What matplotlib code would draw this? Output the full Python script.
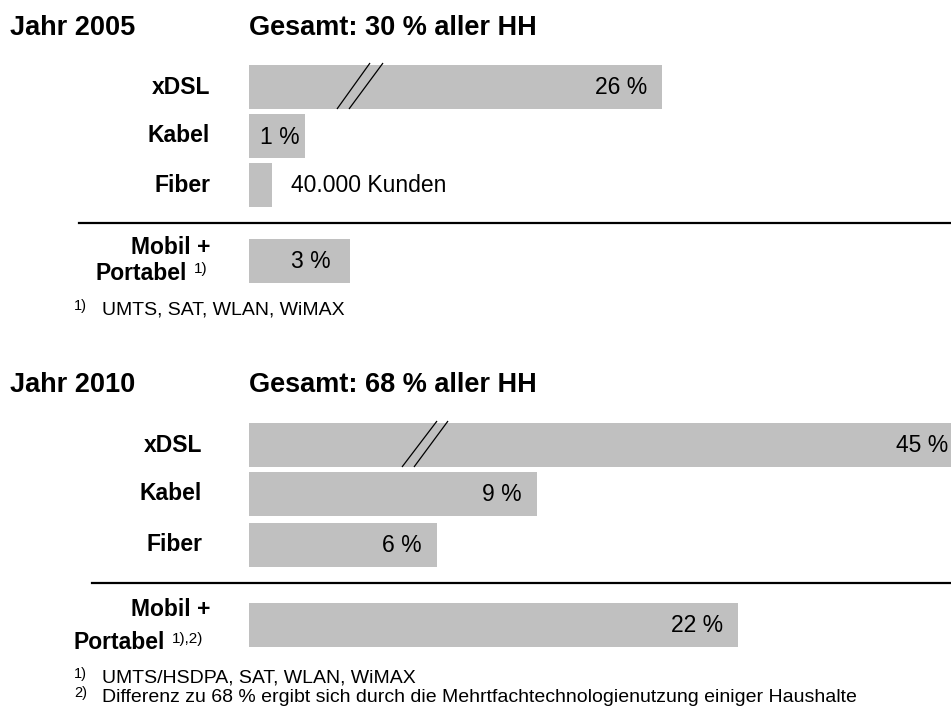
import matplotlib
matplotlib.use("Agg")
import matplotlib.pyplot as plt

# ---------------- data ----------------
categories = ["xDSL", "Kabel", "Fiber", "Mobil +"]
years = ["Jahr 2005", "Jahr 2010"]
totals = ["Gesamt: 30 % aller HH", "Gesamt: 68 % aller HH"]

values_2005 = [26, 1, None, 3]          # percent of households (Fiber: 40.000 customers)
labels_2005 = ["26 %", "1 %", "40.000 Kunden", "3 %"]
values_2010 = [45, 9, 6, 22]
labels_2010 = ["45 %", "9 %", "6 %", "22 %"]

# drawn bar lengths (schematic, not to scale; xDSL bars are broken)
bar_len_2005 = [413, 56, 23, 101]
bar_len_2010 = [702, 288, 188, 489]

footnote_marks = ["1)", "1),2)"]
footnotes_2005 = ["UMTS, SAT, WLAN, WiMAX"]
footnotes_2010 = ["UMTS/HSDPA, SAT, WLAN, WiMAX",
                  "Differenz zu 68 % ergibt sich durch die Mehrtfachtechnologienutzung einiger Haushalte"]

# ---------------- style / layout ----------------
FONT = "Liberation Sans"
GRAY = "#C0C0C0"
W, H = 951, 710
BAR_LEFT = 249
BAR_H = 44

fig = plt.figure(figsize=(W / 100, H / 100), dpi=100)
ax = fig.add_axes([0, 0, 1, 1])
ax.set_xlim(0, W)
ax.set_ylim(H, 0)
ax.axis("off")


def panel(y_rows, lengths, labels, title_y, year, total, sep_y, sep_x0,
          label_right, label_offsets, brk, mark, mobil_dy, fn_lines, fn_y):
    ax.text(10, title_y, year, fontsize=19.5, fontweight="bold", family=FONT,
            ha="left", va="center")
    ax.text(BAR_LEFT, title_y, total, fontsize=19.5, fontweight="bold", family=FONT,
            ha="left", va="center")
    ax.barh(y_rows, lengths, height=BAR_H, left=BAR_LEFT, color=GRAY, linewidth=0)
    # category labels
    for i, cat in enumerate(categories[:3]):
        ax.text(label_right, y_rows[i], cat, fontsize=16.5, fontweight="bold",
                family=FONT, ha="right", va="center")
    ym = y_rows[3]
    ax.text(210, ym + mobil_dy[0], "Mobil +", fontsize=16.5, fontweight="bold",
            family=FONT, ha="right", va="center")
    ax.text(mark[0], ym + mobil_dy[1], "Portabel", fontsize=16.5, fontweight="bold",
            family=FONT, ha="right", va="center")
    ax.text(mark[0] + 7, ym + mobil_dy[1] - 4, mark[1], fontsize=11, family=FONT,
            ha="left", va="center")
    # value labels
    for i, lab in enumerate(labels):
        end = BAR_LEFT + lengths[i]
        off, ha = label_offsets[i]
        ax.text(end + off, y_rows[i] + 1, lab, fontsize=16.5, family=FONT,
                ha=ha, va="center")
    # break marks on xDSL bar
    y0 = y_rows[0] + BAR_H / 2
    y1 = y_rows[0] - BAR_H / 2 - 2
    for xb, xt in brk:
        ax.plot([BAR_LEFT + xb, BAR_LEFT + xt], [y0, y1], color="black", lw=0.9,
                solid_capstyle="butt")
    # separator
    ax.plot([sep_x0, W], [sep_y, sep_y], color="black", lw=1.6)
    # footnotes
    for j, line in enumerate(fn_lines):
        ax.text(74, fn_y[j] - 4, f"{j + 1})", fontsize=10.5, family=FONT,
                ha="left", va="center")
        ax.text(102, fn_y[j], line, fontsize=14, family=FONT, ha="left", va="center")


panel(y_rows=[87, 136, 185, 260.5], lengths=bar_len_2005, labels=labels_2005,
      title_y=28, year=years[0], total=totals[0], sep_y=223, sep_x0=79,
      label_right=210,
      label_offsets=[(-15, "right"), (-5, "right"), (19, "left"), (-19, "right")],
      brk=[(88, 121), (100, 134)], mark=(187, footnote_marks[0]),
      mobil_dy=(-13, 13), fn_lines=footnotes_2005, fn_y=[310])

panel(y_rows=[445, 493.5, 544.5, 624.5], lengths=bar_len_2010, labels=labels_2010,
      title_y=385, year=years[1], total=totals[1], sep_y=583, sep_x0=92,
      label_right=202,
      label_offsets=[(-3, "right"), (-15, "right"), (-15, "right"), (-15, "right")],
      brk=[(153, 188), (165, 199)], mark=(165, footnote_marks[1]),
      mobil_dy=(-15, 18), fn_lines=footnotes_2010, fn_y=[678, 697])

fig.savefig("out.png", dpi=100)
